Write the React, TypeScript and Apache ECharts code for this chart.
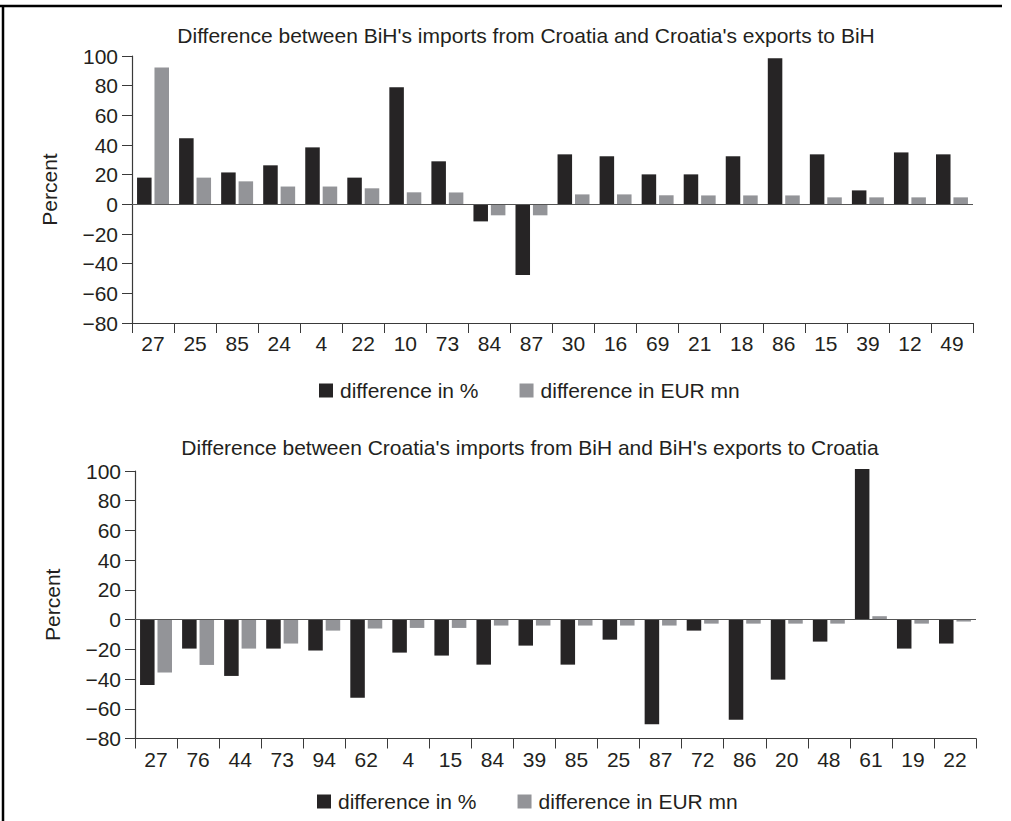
import React, { useEffect, useRef } from "react";
import * as echarts from "echarts";

const topTitle = "Difference between BiH's imports from Croatia and Croatia's exports to BiH";
const bottomTitle = "Difference between Croatia's imports from BiH and BiH's exports to Croatia";
const seriesNames = ["difference in %", "difference in EUR mn"];

const topCategories = ["27", "25", "85", "24", "4", "22", "10", "73", "84", "87", "30", "16", "69", "21", "18", "86", "15", "39", "12", "49"];
const topPercent = [18, 44.5, 21.5, 26.3, 38.4, 18, 78.9, 29, -11.5, -47.6, 33.7, 32.4, 20.2, 20.2, 32.4, 98.4, 33.7, 9.4, 35, 33.7];
const topEur = [92.3, 18, 15.5, 12, 12, 10.8, 8.1, 8, -7.4, -7.4, 6.7, 6.7, 6.1, 6, 6, 6, 4.7, 4.7, 4.7, 4.7];

const bottomCategories = ["27", "76", "44", "73", "94", "62", "4", "15", "84", "39", "85", "25", "87", "72", "86", "20", "48", "61", "19", "22"];
const bottomPercent = [-44, -19.5, -37.9, -19.5, -20.8, -52.5, -22.2, -24.2, -30.3, -17.5, -30.3, -13.5, -70.4, -7.4, -67.3, -40.4, -14.8, 101.4, -19.5, -16.1];
const bottomEur = [-35.6, -30.5, -19.5, -16.1, -7.4, -6, -5.6, -5.6, -4, -4, -4, -4, -4, -2.7, -2.7, -2.7, -2.7, 2.3, -2.7, -1.3];

const yMin = -80;
const yMax = 100;
const yStep = 20;

const DARK = "#262425";
const GREY = "#939498";
const TEXT = "#231f20";
const AXIS = "#3a3a3a";
const FONT = "'Liberation Sans', Arial, Helvetica, sans-serif";
const FS = 21;

export default function App() {
  const ref = useRef<HTMLDivElement | null>(null);

  useEffect(() => {
    if (!ref.current) return;
    const chart = echarts.init(ref.current, undefined, { renderer: "svg" });

    const grids = [
      { left: 132, right: 38, top: 56, height: 267 },
      { left: 135, right: 35, top: 471, height: 267.5 },
    ];

    const xAxis = [topCategories, bottomCategories].map((cats, i) => ({
      type: "category",
      gridIndex: i,
      data: cats,
      position: "bottom",
      axisLine: { onZero: false, lineStyle: { color: AXIS, width: 1.2 } },
      axisTick: { show: true, length: 10, lineStyle: { color: AXIS } },
      axisLabel: { color: TEXT, fontSize: FS, fontFamily: FONT, margin: 10, interval: 0 },
      splitLine: { show: false },
    }));

    const yAxis = [0, 1].map((i) => ({
      type: "value",
      gridIndex: i,
      min: yMin,
      max: yMax,
      interval: yStep,
      name: "Percent",
      nameLocation: "middle",
      nameRotate: 90,
      nameGap: 72,
      nameTextStyle: { color: TEXT, fontSize: FS, fontFamily: FONT },
      axisLine: { show: true, lineStyle: { color: AXIS, width: 1.2 } },
      axisTick: { show: true, length: 10, lineStyle: { color: AXIS } },
      axisLabel: {
        color: TEXT,
        fontSize: FS,
        fontFamily: FONT,
        margin: 14,
        formatter: (v: number) => (v < 0 ? "\u2212" + Math.abs(v) : String(v)),
      },
      splitLine: { show: false },
    }));

    const makeSeries = (idx: number, pct: number[], eur: number[]) => [
      {
        name: seriesNames[0],
        type: "bar",
        xAxisIndex: idx,
        yAxisIndex: idx,
        data: pct,
        clip: false,
        barGap: "20%",
        barCategoryGap: "24%",
        itemStyle: { color: DARK },
        markLine: {
          silent: true,
          symbol: "none",
          label: { show: false },
          lineStyle: { color: "#555", width: 1.2, type: "solid" },
          data: [{ yAxis: 0 }],
        },
      },
      {
        name: seriesNames[1],
        type: "bar",
        xAxisIndex: idx,
        yAxisIndex: idx,
        data: eur,
        clip: false,
        barGap: "20%",
        barCategoryGap: "24%",
        itemStyle: { color: GREY },
      },
    ];

    const legendBase = {
      orient: "horizontal",
      itemWidth: 14,
      itemHeight: 14,
      itemGap: 41,
      icon: "rect",
      padding: 0,
      textStyle: { color: TEXT, fontSize: FS, fontFamily: FONT, lineHeight: 20, padding: [0, 0, 0, 2] },
      data: seriesNames,
      selectedMode: false,
    };

    chart.setOption({
      animation: false,
      backgroundColor: "#ffffff",
      textStyle: { fontFamily: FONT },
      title: [
        {
          text: topTitle,
          left: 526,
          top: 35,
          padding: 0,
          textAlign: "center",
          textVerticalAlign: "middle",
          textStyle: { color: TEXT, fontSize: FS, fontWeight: "normal", fontFamily: FONT },
        },
        {
          text: bottomTitle,
          left: 530,
          top: 447,
          padding: 0,
          textAlign: "center",
          textVerticalAlign: "middle",
          textStyle: { color: TEXT, fontSize: FS, fontWeight: "normal", fontFamily: FONT },
        },
      ],
      legend: [
        { ...legendBase, left: 319, top: 380 },
        { ...legendBase, left: 317, top: 791 },
      ],
      grid: grids,
      xAxis,
      yAxis,
      series: [...makeSeries(0, topPercent, topEur), ...makeSeries(1, bottomPercent, bottomEur)],
      graphic: [
        { type: "line", shape: { x1: 0, y1: 6, x2: 1002, y2: 6 }, style: { stroke: "#000", lineWidth: 2.5 } },
        { type: "line", shape: { x1: 3, y1: 5, x2: 3, y2: 821 }, style: { stroke: "#000", lineWidth: 2.5 } },
      ],
    });

    return () => chart.dispose();
  }, []);

  return (
    <div
      ref={ref}
      style={{ position: "absolute", left: 0, top: 0, width: 1011, height: 821, background: "#fff" }}
    />
  );
}
